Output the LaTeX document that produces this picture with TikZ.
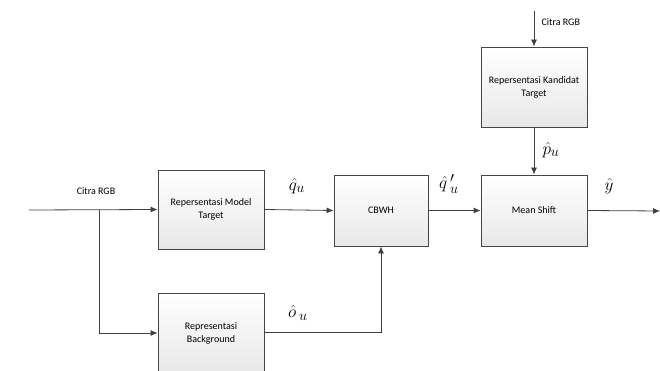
\documentclass[tikz,border=0pt]{standalone}
\usepackage{fontspec}
\setmainfont{Carlito}
\usetikzlibrary{arrows.meta,positioning}

\begin{document}
\begin{tikzpicture}[x=1pt,y=-1pt,
  box/.style={draw=gray!55!black,thick,top color=white,bottom color=gray!18,
    inner sep=2pt,align=center,font=\fontsize{10}{13}\selectfont},
  flow/.style={draw=black!75,thick,-{Latex[length=7pt,width=6pt]}},
  sym/.style={font=\fontsize{19}{22}\selectfont}]
  \useasboundingbox (0,0) rectangle (660,371);
  \clip (0,0) rectangle (660,371);
  % blocks
  \node[box,minimum width=106pt,minimum height=79pt] (model) at (211,209.5) {Repersentasi Model\\Target};
  \node[box,minimum width=106pt,minimum height=80pt] (backg) at (211,333) {Representasi\\Background};
  \node[box,minimum width=94pt,minimum height=71pt] (cbwh) at (381,210.5) {CBWH};
  \node[box,minimum width=106pt,minimum height=71pt] (mshift) at (534,210.5) {Mean Shift};
  \node[box,minimum width=106pt,minimum height=80pt] (kand) at (534,87) {Repersentasi Kandidat\\Target};
  % ends and bends
  \coordinate (in) at (29,210);
  \coordinate (split) at (99,210);
  \coordinate (top) at (534,11);
  \coordinate (out) at (660,211);
  \coordinate (bend) at (381,332);
  % connectors
  \draw[flow] (in) -- (model.west);
  \draw[flow] (split) |- (backg.west);
  \draw[flow] (model.east) -- (cbwh.west);
  \draw[flow] (backg.east |- bend) -- (bend) -- (cbwh.south);
  \draw[flow] (cbwh.east) -- (mshift.west);
  \draw[flow] (top) -- (kand.north);
  \draw[flow] (kand.south) -- (mshift.north);
  \draw[flow] (mshift.east) -- (out);
  % labels
  \node[font=\fontsize{10}{13}\selectfont] (lin) at (96,191) {Citra RGB};
  \node[font=\fontsize{10}{13}\selectfont,anchor=west] (ltop) at (538,22) {Citra RGB};
  \node[sym] (lq) at (297,186) {$\hat{q}_u$};
  \node[sym] (lo) at (298,313) {$\hat{o}\,_u$};
  \node[sym] (lqq) at (449,184) {$\hat{q}\,'_u$};
  \node[sym] (lp) at (551,150) {$\hat{p}_u$};
  \node[sym] (ly) at (609,186) {$\hat{y}$};
\end{tikzpicture}
\end{document}
